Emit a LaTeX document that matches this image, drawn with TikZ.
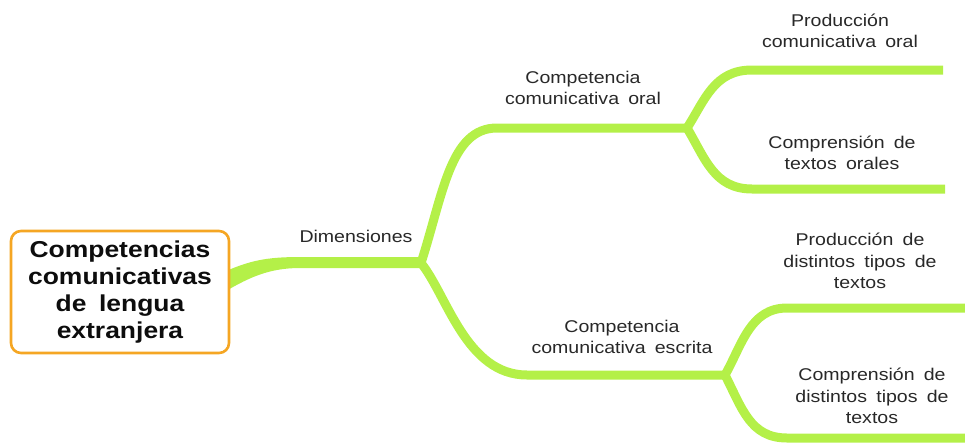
\documentclass[tikz,border=0pt]{standalone}
\usepackage{fontspec}
\setmainfont[FakeStretch=1.15,WordSpace=1.7]{Liberation Sans}
\definecolor{branch}{RGB}{180,240,72}
\definecolor{boxline}{RGB}{245,166,35}
\definecolor{txt}{RGB}{40,40,40}
\begin{document}
\begin{tikzpicture}[x=1pt,y=-1pt,
  lbl/.style={align=center,text=txt,inner sep=0pt,font=\fontsize{17}{21.5}\selectfont},
  br/.style={draw=branch,line width=9pt,line cap=butt},
  mainbox/.style={draw=boxline,line width=2.6pt,rounded corners=10pt,fill=white,
    minimum width=218pt,minimum height=122pt,align=center,inner sep=0pt,
    font=\fontsize{23}{27}\selectfont\bfseries,text=black!95}]
\useasboundingbox (0,0) rectangle (965,442);
% coordinates
\coordinate (j0) at (421,263);
\coordinate (j1) at (687,128);
\coordinate (j2) at (725,375);
\coordinate (e1) at (943,70);
\coordinate (e2) at (945,189);
\coordinate (e3) at (965,308);
\coordinate (e4) at (965,438);
% trunk (tapered)
\fill[branch] (226,271) .. controls (250,261) and (265,257) .. (300,257) -- (422,257)
  -- (422,268) -- (300,268) .. controls (270,268) and (250,277) .. (226,291) -- cycle;
% branches
\draw[br] (j0) .. controls (443,195) and (450,128) .. (497,128) -- (j1);
\draw[br] (j0) .. controls (447,295) and (466,375) .. (527,375) -- (j2);
\draw[br] (j1) .. controls (705,100) and (714,70) .. (752,70) -- (e1);
\draw[br] (j1) .. controls (705,158) and (714,189) .. (752,189) -- (e2);
\draw[br] (j2) .. controls (742,345) and (750,308) .. (787,308) -- (e3);
\draw[br] (j2) .. controls (742,408) and (750,438) .. (787,438) -- (e4);
% main box
\node[mainbox] (main) at (120,292) {Competencias\\comunicativas\\de lengua\\extranjera};
% labels
\node[lbl] (dim) at (356,236) {Dimensiones};
\node[lbl] (co) at (583,88) {Competencia\\comunicativa oral};
\node[lbl] (po) at (840,31) {Producción\\comunicativa oral};
\node[lbl] (ct) at (842,153) {Comprensión de\\textos orales};
\node[lbl] (ce) at (622,337) {Competencia\\comunicativa escrita};
\node[lbl] (pd) at (860,261) {Producción de\\distintos tipos de\\textos};
\node[lbl] (cd) at (872,396) {Comprensión de\\distintos tipos de\\textos};
\end{tikzpicture}
\end{document}
